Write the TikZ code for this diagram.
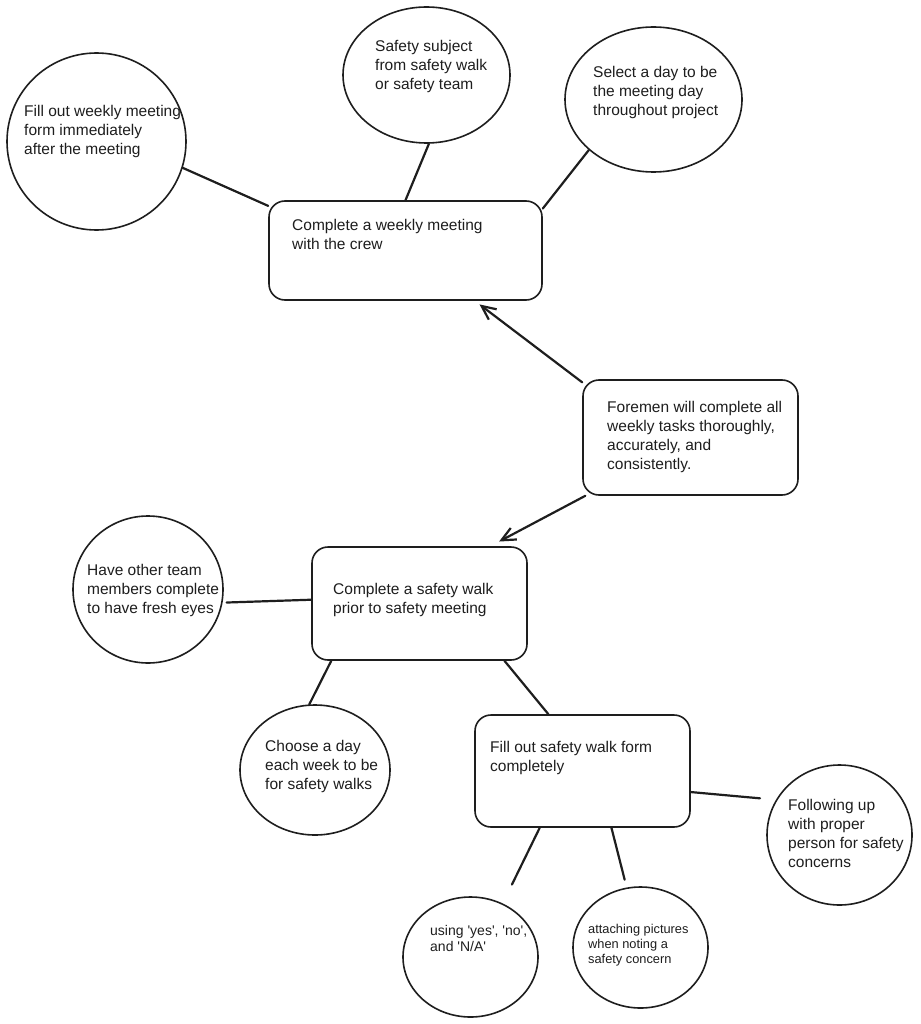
\documentclass[tikz,border=0pt]{standalone}
\usepackage{fontspec}
\setmainfont{Liberation Sans}
\usetikzlibrary{arrows.meta,shapes.geometric}
\definecolor{ink}{HTML}{1E1E1E}

\begin{document}
\begin{tikzpicture}[x=1pt, y=-1pt,
  bubble/.style={draw=ink, ellipse, line width=1.6pt, inner sep=0pt},
  card/.style={draw=ink, rounded corners=16pt, line width=1.6pt, inner sep=0pt},
  note/.style={anchor=north west, align=left, inner sep=0pt, text=ink, font=\fontsize{15.5}{19}\selectfont},
  link/.style={draw=ink, line width=2.2pt, line cap=round},
  arrow/.style={link, -{Straight Barb[length=14pt, width=13pt]}}
]
\fill[white] (0,0) rectangle (920,1024);
\useasboundingbox (0,0) rectangle (920,1024);

% weekly meeting and its three bubbles
\node[card, minimum width=273pt, minimum height=99pt] (weekly) at (405.5,250.5) {};
\node[bubble, minimum width=179pt, minimum height=177pt] (meetform) at (96.5,141.5) {};
\node[bubble, minimum width=167pt, minimum height=136pt] (subject) at (426.5,75) {};
\node[bubble, minimum width=177pt, minimum height=145pt] (meetday) at (653.5,99.5) {};
\node[note] (weeklytxt) at (292,217.4) {\strut Complete a weekly meeting\\with the crew};
\node[note] (meetformtxt) at (24,103.1) {\strut Fill out weekly meeting\\form immediately\\after the meeting};
\node[note] (subjecttxt) at (375,38.4) {\strut Safety subject\\from safety walk\\or safety team};
\node[note] (meetdaytxt) at (593,64.4) {\strut Select a day to be\\the meeting day\\throughout project};

% goal in the middle
\node[card, minimum width=215pt, minimum height=115pt] (foremen) at (690.5,437.5) {};
\node[note] (forementxt) at (607,399.4) {\strut Foremen will complete all\\weekly tasks thoroughly,\\accurately, and\\consistently.};

% safety walk and its bubbles
\node[card, minimum width=215pt, minimum height=113pt] (walk) at (419.5,603.5) {};
\node[bubble, minimum width=150pt, minimum height=147pt] (eyes) at (148,589.5) {};
\node[bubble, minimum width=150pt, minimum height=130pt] (walkday) at (315,770) {};
\node[card, minimum width=215pt, minimum height=112pt] (walkform) at (582.5,771) {};
\node[bubble, minimum width=145pt, minimum height=140pt] (followup) at (839.5,835) {};
\node[bubble, minimum width=135pt, minimum height=120pt] (yesno) at (470.5,957) {};
\node[bubble, minimum width=135pt, minimum height=121pt] (pictures) at (640.5,947.5) {};
\node[note] (walktxt) at (333,581.4) {\strut Complete a safety walk\\prior to safety meeting};
\node[note] (eyestxt) at (87,562.4) {\strut Have other team\\members complete\\to have fresh eyes};
\node[note] (walkdaytxt) at (265,738.4) {\strut Choose a day\\each week to be\\for safety walks};
\node[note] (walkformtxt) at (490,739.4) {\strut Fill out safety walk form\\completely};
\node[note] (followuptxt) at (788,797.4) {\strut Following up\\with proper\\person for safety\\concerns};
\node[note, font=\fontsize{14}{16}\selectfont] (yesnotxt) at (430,924.1)
  {\strut using \textquotesingle yes\textquotesingle, \textquotesingle no\textquotesingle,\\and \textquotesingle N/A\textquotesingle};
\node[note, font=\fontsize{12.8}{15}\selectfont] (picturestxt) at (588,922.7)
  {\strut attaching pictures\\when noting a\\safety concern};

% connectors
\draw[link] (meetform.-17) -- (weekly.162);
\draw[link] (subject.-88) -- (weekly.north);
\draw[link] (meetday.-142) -- (weekly.17);
\draw[arrow, shorten >=6pt] (foremen.153) -- (weekly.-36);
\draw[arrow, shorten >=10pt] (foremen.209) -- (walk.39);
\draw[link, shorten <=4pt] (eyes.-10) -- (walk.178);
\draw[link] (walk.213) -- (walkday.95);
\draw[link] (walk.-34) -- (walkform.121);
\draw[link, shorten >=16pt] (walkform.-11) -- (followup.151);
\draw[link, shorten >=21pt] (walkform.-127) -- (yesno.59);
\draw[link, shorten >=8pt] (walkform.-63) -- (pictures.103);
\end{tikzpicture}
\end{document}
